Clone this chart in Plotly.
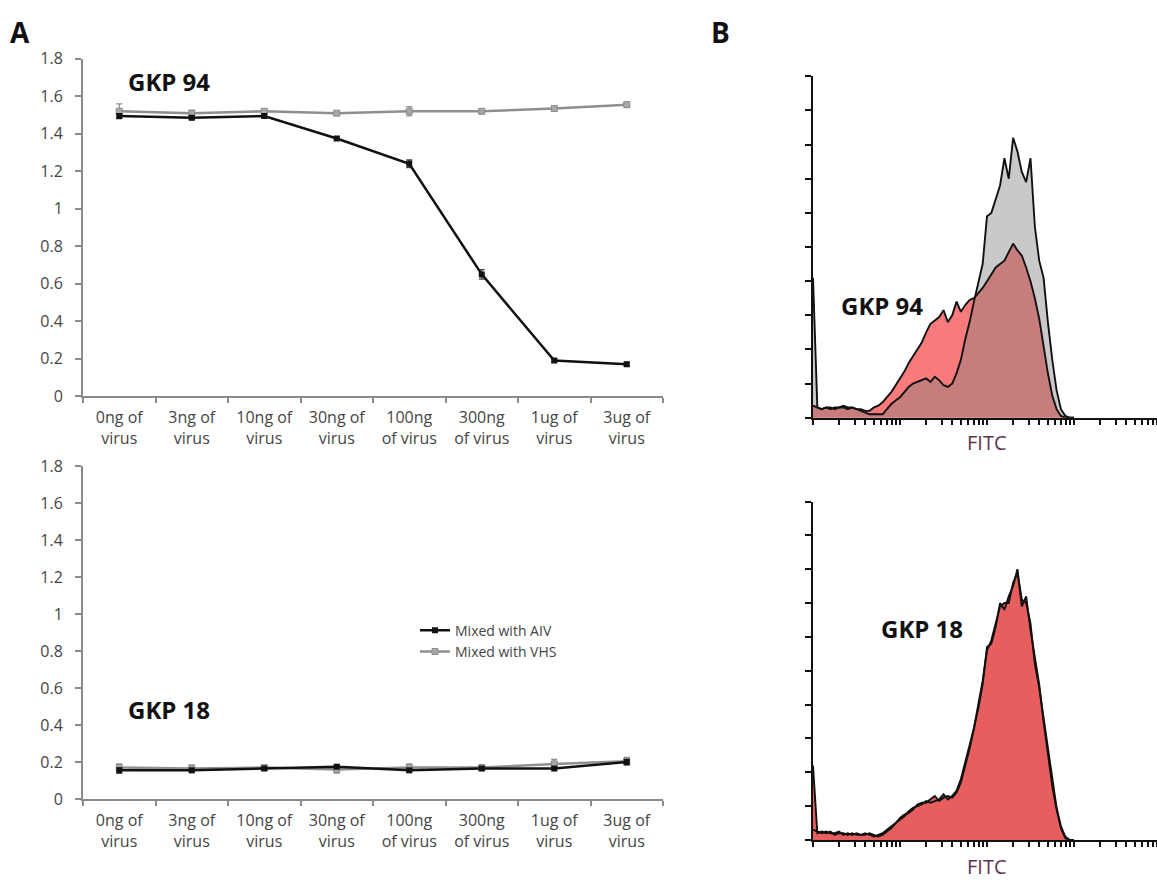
import numpy as np
import plotly.graph_objects as go

# ---------------- Panel A data ----------------
doses = ["0ng of<br>virus", "3ng of<br>virus", "10ng of<br>virus", "30ng of<br>virus",
         "100ng<br>of virus", "300ng<br>of virus", "1ug of<br>virus", "3ug of<br>virus"]

gkp94_aiv = [1.495, 1.485, 1.495, 1.375, 1.24, 0.65, 0.19, 0.17]
gkp94_aiv_err = [0.01, 0.01, 0.01, 0.01, 0.02, 0.025, 0.008, 0.01]
gkp94_vhs = [1.52, 1.51, 1.52, 1.51, 1.52, 1.52, 1.535, 1.555]
gkp94_vhs_err = [0.04, 0.015, 0.01, 0.006, 0.025, 0.006, 0.008, 0.012]

gkp18_aiv = [0.155, 0.155, 0.165, 0.175, 0.155, 0.165, 0.165, 0.20]
gkp18_aiv_err = [0.015, 0.01, 0.01, 0.01, 0.01, 0.01, 0.01, 0.015]
gkp18_vhs = [0.17, 0.165, 0.17, 0.16, 0.17, 0.17, 0.19, 0.205]
gkp18_vhs_err = [0.02, 0.02, 0.015, 0.02, 0.02, 0.015, 0.025, 0.02]

y_ticks = [0, 0.2, 0.4, 0.6, 0.8, 1, 1.2, 1.4, 1.6, 1.8]
y_tick_text = ["0", "0.2", "0.4", "0.6", "0.8", "1", "1.2", "1.4", "1.6", "1.8"]

# ---------------- Panel B data (FITC histograms) ----------------
# bin centres: 20 bins per decade over three decades of FITC intensity
fitc_bins = np.logspace(0, 3, 61)

gkp94_ctrl = [4.1, 0.3, 0.25, 0.3, 0.25, 0.3, 0.3, 0.35, 0.3, 0.3,
              0.25, 0.2, 0.15, 0.1, 0.1, 0.1, 0.1, 0.25, 0.4, 0.5,
              0.6, 0.75, 0.9, 1.0, 1.05, 1.1, 1.15, 1.05, 1.2, 1.1,
              0.95, 0.9, 1.0, 1.3, 1.7, 2.3, 2.8, 3.4, 4.0, 4.5,
              5.9, 6.0, 6.4, 6.8, 7.6, 7.0, 8.2, 7.8, 7.2, 6.9,
              7.6, 5.6, 4.6, 4.1, 2.8, 1.7, 0.8, 0.25, 0.05, 0.0, 0.0]
gkp94_aiv_hist = [0.35, 0.3, 0.25, 0.3, 0.3, 0.25, 0.3, 0.3, 0.25, 0.3,
                  0.25, 0.25, 0.2, 0.2, 0.3, 0.35, 0.45, 0.6, 0.75, 0.95,
                  1.15, 1.35, 1.6, 1.8, 2.0, 2.2, 2.5, 2.75, 2.85, 2.95,
                  3.15, 2.8, 3.0, 3.4, 3.1, 3.3, 3.45, 3.5, 3.65, 3.8,
                  4.0, 4.2, 4.4, 4.5, 4.6, 4.85, 5.1, 4.9, 4.75, 4.4,
                  4.0, 3.5, 2.9, 2.1, 1.3, 0.65, 0.25, 0.05, 0.0, 0.0, 0.0]

gkp18_ctrl = [2.2, 0.2, 0.25, 0.2, 0.25, 0.15, 0.2, 0.2, 0.15, 0.2,
              0.15, 0.15, 0.2, 0.15, 0.1, 0.15, 0.2, 0.3, 0.4, 0.5,
              0.6, 0.7, 0.85, 0.95, 1.0, 1.05, 1.15, 1.1, 1.15, 1.2,
              1.35, 1.2, 1.3, 1.45, 1.8, 2.3, 2.8, 3.3, 3.9, 4.6,
              5.7, 5.8, 6.3, 7.0, 6.8, 7.2, 7.5, 8.0, 6.9, 7.2,
              6.2, 5.4, 4.6, 3.5, 2.5, 1.6, 0.9, 0.35, 0.05, 0.0, 0.0]
gkp18_aiv_hist = [0.3, 0.25, 0.2, 0.25, 0.2, 0.2, 0.25, 0.15, 0.2, 0.15,
                  0.2, 0.15, 0.15, 0.2, 0.15, 0.1, 0.15, 0.25, 0.35, 0.5,
                  0.65, 0.75, 0.8, 0.9, 1.05, 1.1, 1.1, 1.2, 1.3, 1.15,
                  1.25, 1.3, 1.25, 1.4, 1.7, 2.2, 2.7, 3.3, 4.0, 4.7,
                  5.6, 5.9, 6.4, 6.9, 7.0, 7.0, 7.6, 7.9, 7.1, 7.0,
                  6.4, 5.2, 4.5, 3.6, 2.6, 1.7, 0.95, 0.4, 0.1, 0.0, 0.0]

# ---------------- figure ----------------
W, H = 1157, 889
AX_GRAY = "#8a8a8a"
TXT_GRAY = "#454545"
FONT = "Open Sans"

fig = go.Figure()


def px_x(p):
    return p / W


def px_y(p):
    return 1 - p / H


def add_dose_series(xa, ya, aiv, aiv_err, vhs, vhs_err, legend):
    fig.add_trace(go.Scatter(
        x=doses, y=vhs, xaxis=xa, yaxis=ya, mode="lines+markers",
        name="Mixed with VHS", showlegend=legend, legendrank=2,
        line=dict(color="#8f8f8f", width=2.5),
        marker=dict(symbol="square", size=6, color="#a8a8a8",
                    line=dict(color="#8a8a8a", width=1)),
        error_y=dict(type="data", array=vhs_err, color="#8f8f8f",
                     thickness=1.3, width=3),
    ))
    fig.add_trace(go.Scatter(
        x=doses, y=aiv, xaxis=xa, yaxis=ya, mode="lines+markers",
        name="Mixed with AIV", showlegend=legend, legendrank=1,
        line=dict(color="#111111", width=2.5),
        marker=dict(symbol="square", size=6, color="#111111"),
        error_y=dict(type="data", array=aiv_err, color="#444444",
                     thickness=1.3, width=3),
    ))


add_dose_series("x", "y", gkp94_aiv, gkp94_aiv_err, gkp94_vhs, gkp94_vhs_err, False)
add_dose_series("x2", "y2", gkp18_aiv, gkp18_aiv_err, gkp18_vhs, gkp18_vhs_err, True)


def add_hist(xa, ya, base, over, base_fill, over_fill, overlap_fill):
    fig.add_trace(go.Scatter(
        x=fitc_bins, y=base, xaxis=xa, yaxis=ya, mode="lines", fill="tozeroy",
        fillcolor=base_fill, line=dict(color="rgba(0,0,0,0)", width=0),
        showlegend=False, hoverinfo="skip"))
    fig.add_trace(go.Scatter(
        x=fitc_bins, y=over, xaxis=xa, yaxis=ya, mode="lines", fill="tozeroy",
        fillcolor=over_fill, line=dict(color="rgba(0,0,0,0)", width=0),
        showlegend=False, hoverinfo="skip"))
    if overlap_fill is not None:
        shared = np.minimum(base, over)
        fig.add_trace(go.Scatter(
            x=fitc_bins, y=shared, xaxis=xa, yaxis=ya, mode="lines", fill="tozeroy",
            fillcolor=overlap_fill, line=dict(color="rgba(0,0,0,0)", width=0),
            showlegend=False, hoverinfo="skip"))
    for series in (base, over):
        fig.add_trace(go.Scatter(
            x=fitc_bins, y=series, xaxis=xa, yaxis=ya, mode="lines",
            line=dict(color="#111111", width=1.9),
            showlegend=False, hoverinfo="skip"))


add_hist("x3", "y3", gkp94_ctrl, gkp94_aiv_hist, "#c9c9c9", "#f77b7b", "#c87d7d")
add_hist("x4", "y4", gkp18_ctrl, gkp18_aiv_hist, "#e65e5e", "#e65e5e", None)

# ---- axes for panel A ----
A_X = [px_x(83), px_x(663)]
cat_axis = dict(
    domain=A_X, type="category", range=[-0.5, 7.5], showline=True,
    linecolor=AX_GRAY, linewidth=2, ticks="outside", tickson="boundaries",
    ticklen=5, tickwidth=1.5, tickcolor=AX_GRAY, showgrid=False, zeroline=False,
    tickfont=dict(family=FONT, size=16, color=TXT_GRAY), ticklabelstandoff=6,
)
val_axis = dict(
    range=[0, 1.8], showline=True, linecolor=AX_GRAY, linewidth=2,
    ticks="outside", ticklen=6, tickwidth=1.5, tickcolor=AX_GRAY,
    tickvals=y_ticks, ticktext=y_tick_text, showgrid=False, zeroline=False,
    tickfont=dict(family=FONT, size=16, color=TXT_GRAY), ticklabelstandoff=9,
)
fig.update_layout(
    xaxis=dict(cat_axis, anchor="y"),
    yaxis=dict(val_axis, domain=[px_y(395), px_y(49)], anchor="x"),
    xaxis2=dict(cat_axis, anchor="y2"),
    yaxis2=dict(val_axis, domain=[px_y(808), px_y(467)], anchor="x2"),
)

# ---- axes for panel B ----
log_axis = dict(
    domain=[px_x(813), 1.0], type="log", range=[0, 3.954], showline=True,
    linecolor="#111111", linewidth=2, ticks="outside", dtick="D1",
    ticklen=5, tickwidth=1.5, tickcolor="#111111", showticklabels=False,
    showgrid=False, zeroline=False,
)
count_axis = dict(
    range=[0, 10], showline=True, linecolor="#111111", linewidth=2,
    ticks="outside", dtick=1, ticklen=6, tickwidth=1.5, tickcolor="#111111",
    showticklabels=False, showgrid=False, zeroline=False,
)
fig.update_layout(
    xaxis3=dict(log_axis, anchor="y3"),
    yaxis3=dict(count_axis, domain=[px_y(417), px_y(67)], anchor="x3"),
    xaxis4=dict(log_axis, anchor="y4"),
    yaxis4=dict(count_axis, domain=[px_y(850), px_y(503)], anchor="x4"),
)

# ---- text ----
def label(text, x, y, size, color="#111111", bold=True):
    fig.add_annotation(
        text=f"<b>{text}</b>" if bold else text, x=px_x(x), y=px_y(y),
        xref="paper", yref="paper", showarrow=False,
        font=dict(family=FONT, size=size, color=color),
        xanchor="center", yanchor="middle")


label("A", 20, 22, 28)
label("B", 720, 22, 28)
label("GKP 94", 169, 72, 24)
label("GKP 18", 169, 716, 24)
label("GKP 94", 882, 302, 24)
label("GKP 18", 922, 633, 24)
label("FITC", 987, 442, 20, color="#5e3352", bold=False)
label("FITC", 987, 877, 20, color="#5e3352", bold=False)

fig.update_layout(
    width=W, height=H, margin=dict(l=0, r=0, t=0, b=0),
    paper_bgcolor="white", plot_bgcolor="white",
    legend=dict(
        x=px_x(415), y=px_y(619), xanchor="left", yanchor="top",
        font=dict(family=FONT, size=14, color=TXT_GRAY),
        bgcolor="rgba(0,0,0,0)", itemwidth=30, tracegroupgap=0,
        traceorder="normal",
    ),
    font=dict(family=FONT),
)

fig.write_html("out.html")
